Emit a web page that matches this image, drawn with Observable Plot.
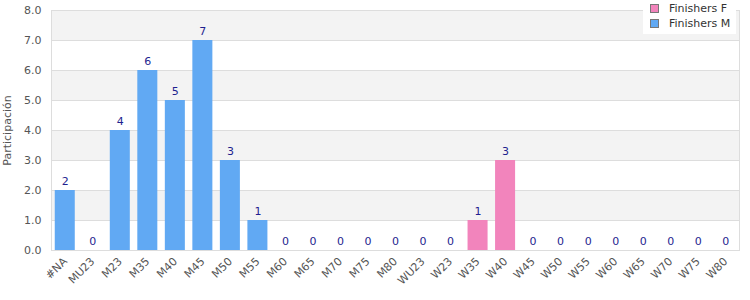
<!DOCTYPE html>
<html>
<head>
<meta charset="utf-8">
<script src="https://cdn.jsdelivr.net/npm/d3@7"></script>
<script src="https://cdn.jsdelivr.net/npm/@observablehq/plot@0.6"></script>
<style>
  body { margin: 0; background: #fff; }
  #wrap { position: relative; width: 750px; height: 300px; font-family: "DejaVu Sans", sans-serif; }
  #legend { position: absolute; left: 643px; top: 0px; width: 93px; height: 34px; background: #fff; font-size: 11px; color: #333; }
  .item { position: absolute; left: 7px; display: flex; align-items: center; }
  .sw { width: 7px; height: 7px; border: 1px solid #777; margin-right: 10px; }
</style>
</head>
<body>
<div id="wrap"></div>
<script>
const categories = ["#NA","MU23","M23","M35","M40","M45","M50","M55","M60","M65","M70","M75","M80","WU23","W23","W35","W40","W45","W50","W55","W60","W65","W70","W75","W80"];
const finishersM = [2,0,4,6,5,7,3,1,0,0,0,0,0,0,0,0,0,0,0,0,0,0,0,0,0];
const finishersF = [0,0,0,0,0,0,0,0,0,0,0,0,0,0,0,1,3,0,0,0,0,0,0,0,0];
const seriesNames = ["Finishers F","Finishers M"];
const seriesColors = ["#f284bc","#61a9f3"];
const yTicks = [0,1,2,3,4,5,6,7,8];

const rows = [];
categories.forEach((c, i) => {
  rows.push({cat: c, series: "Finishers M", value: finishersM[i]});
  rows.push({cat: c, series: "Finishers F", value: finishersF[i]});
});
const totals = categories.map((c, i) => ({cat: c, value: finishersM[i] + finishersF[i]}));
const bands = yTicks.slice(0, -1).filter(t => t % 2 === 1).map(t => ({y1: t, y2: t + 1}));

const chart = Plot.plot({
  width: 750,
  height: 300,
  marginLeft: 51,
  marginRight: 11,
  marginTop: 10,
  marginBottom: 50,
  style: {fontFamily: "DejaVu Sans, sans-serif", fontSize: "11px", color: "#555", background: "#fff"},
  x: {domain: categories, padding: 0, round: false, label: null, tickSize: 0, tickRotate: -45, tickPadding: 9},
  y: {domain: [0, 8], ticks: yTicks, tickFormat: d => d.toFixed(1), label: "Participación", labelAnchor: "center", labelArrow: "none", labelOffset: 48, tickSize: 0, tickPadding: 10},
  color: {domain: seriesNames, range: seriesColors},
  marks: [
    Plot.rect(bands, {y1: "y1", y2: "y2", fill: "#f3f3f3"}),
    Plot.ruleY(yTicks, {stroke: "#ddd"}),
    Plot.frame({stroke: "#ddd"}),
    Plot.barY(rows, {x: "cat", y: "value", fill: "series", insetLeft: 3.75, insetRight: 3.75}),
    Plot.text(totals, {x: "cat", y: "value", text: d => String(d.value), dy: -9, fill: "#1f1f8f", fontSize: 11})
  ]
});

const wrap = document.getElementById("wrap");
wrap.appendChild(chart);
const legend = document.createElement("div");
legend.id = "legend";
seriesNames.forEach((s, i) => {
  const it = document.createElement("div");
  it.className = "item";
  it.style.top = (2 + i * 15) + "px";
  const sw = document.createElement("div");
  sw.className = "sw";
  sw.style.background = seriesColors[i];
  it.appendChild(sw);
  const t = document.createElement("span");
  t.textContent = s;
  it.appendChild(t);
  legend.appendChild(it);
});
wrap.appendChild(legend);
</script>
</body>
</html>
